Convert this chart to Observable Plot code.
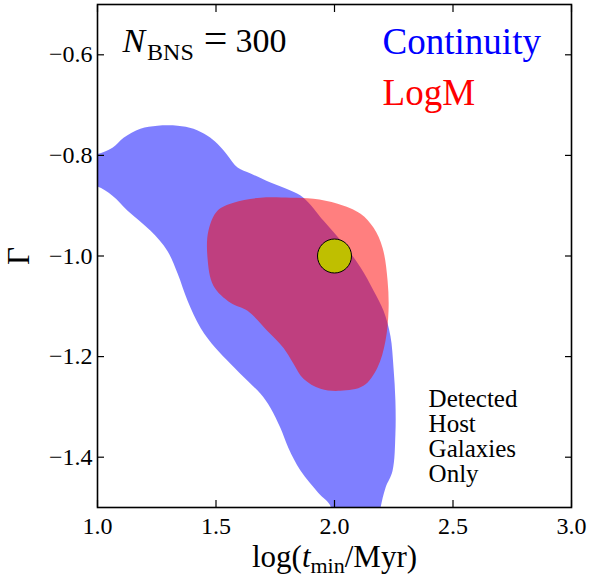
<!DOCTYPE html>
<html>
<head>
<meta charset="utf-8">
<script src="https://cdn.jsdelivr.net/npm/d3@7"></script>
<script src="https://cdn.jsdelivr.net/npm/@observablehq/plot@0.6"></script>
<style>
  html, body { margin: 0; padding: 0; background: white; }
  #chart svg { display: block; }
  #chart svg text { font-family: "Liberation Serif", "DejaVu Serif", serif; }
</style>
</head>
<body>
<div id="chart"></div>
<script>
// Tick values
const xTicks = [1.0, 1.5, 2.0, 2.5, 3.0];
const yTicks = [-1.4, -1.2, -1.0, -0.8, -0.6];

// "Continuity" credible-region outline (log t_min, Gamma)
const continuityX = [0.962, 1.0, 1.063, 1.110, 1.181, 1.253, 1.338, 1.405, 1.464, 1.506, 1.549, 1.591, 1.646, 1.730, 1.814, 1.869, 1.954, 2.038, 2.110, 2.165, 2.207, 2.236, 2.249, 2.257, 2.257, 2.245, 2.215, 2.194, 2.186, 1.983, 1.983, 1.932, 1.857, 1.806, 1.772, 1.730, 1.688, 1.633, 1.561, 1.498, 1.435, 1.380, 1.338, 1.295, 1.224, 1.127, 1.063, 1.0, 0.962];
const continuityY = [-0.795, -0.797, -0.785, -0.765, -0.747, -0.741, -0.741, -0.747, -0.761, -0.777, -0.800, -0.824, -0.836, -0.854, -0.870, -0.884, -0.930, -0.976, -1.023, -1.069, -1.109, -1.159, -1.222, -1.288, -1.354, -1.427, -1.461, -1.501, -1.527, -1.527, -1.497, -1.471, -1.427, -1.382, -1.342, -1.302, -1.274, -1.248, -1.214, -1.183, -1.143, -1.089, -1.035, -0.990, -0.950, -0.910, -0.880, -0.862, -0.860];

// "LogM" credible-region outline
const logmX = [1.506, 1.574, 1.688, 1.814, 1.911, 2.013, 2.110, 2.165, 2.203, 2.224, 2.228, 2.215, 2.181, 2.122, 2.025, 1.941, 1.869, 1.827, 1.785, 1.717, 1.633, 1.561, 1.489, 1.464, 1.468];
const logmY = [-0.910, -0.894, -0.884, -0.884, -0.886, -0.896, -0.916, -0.944, -0.984, -1.049, -1.109, -1.169, -1.222, -1.258, -1.268, -1.264, -1.244, -1.214, -1.183, -1.149, -1.109, -1.093, -1.059, -1.003, -0.950];

// True value
const truthX = [2.0];
const truthY = [-1.0];

const continuity = continuityX.map((x, i) => ({x, y: continuityY[i]}));
const logm = logmX.map((x, i) => ({x, y: logmY[i]}));
const truth = truthX.map((x, i) => ({x, y: truthY[i]}));

const fmt = d3.format(".1f");

const chart = Plot.plot({
  width: 589,
  height: 581,
  marginLeft: 97,
  marginRight: 18,
  marginTop: 4,
  marginBottom: 74,
  x: {domain: [1, 3]},
  y: {domain: [-1.5, -0.5]},
  style: {fontFamily: "Liberation Serif", fontSize: "24px", background: "white", color: "black"},
  marks: [
    Plot.line(continuity, {x: "x", y: "y", curve: "catmull-rom-closed", fill: "blue", fillOpacity: 0.5, stroke: "none", clip: true}),
    Plot.line(logm, {x: "x", y: "y", curve: "catmull-rom-closed", fill: "red", fillOpacity: 0.5, stroke: "none", clip: true}),
    Plot.dot(truth, {x: "x", y: "y", r: 17, fill: "#bfbf00", stroke: "black", strokeWidth: 1}),
    Plot.axisX({ticks: xTicks, tickSize: -7, tickPadding: 16, tickFormat: fmt, label: null, fontSize: 24, strokeWidth: 1.2}),
    Plot.axisX({anchor: "top", ticks: xTicks, tickSize: -7, tickFormat: () => "", label: null, strokeWidth: 1.2}),
    Plot.axisY({ticks: yTicks, tickSize: -7, tickPadding: 12, tickFormat: fmt, label: null, fontSize: 24, strokeWidth: 1.2}),
    Plot.axisY({anchor: "right", ticks: yTicks, tickSize: -7, tickFormat: () => "", label: null, strokeWidth: 1.2}),
    Plot.frame({stroke: "black", strokeWidth: 1.6}),
    Plot.text(["NBNS300"], {x: 1.105, y: -0.5935, textAnchor: "start", lineAnchor: "bottom", fontSize: 34}),
    Plot.text(["Continuity"], {x: 2.203, y: -0.5975, textAnchor: "start", lineAnchor: "bottom", fontSize: 37, fill: "blue"}),
    Plot.text(["LogM"], {x: 2.203, y: -0.699, textAnchor: "start", lineAnchor: "bottom", fontSize: 37, fill: "red"}),
    Plot.text(["Detected\nHost\nGalaxies\nOnly"], {x: 2.397, y: -1.264, textAnchor: "start", lineAnchor: "top", lineHeight: 1.0, fontSize: 25}),
    Plot.text(["XLABEL"], {frameAnchor: "bottom", dy: 59, textAnchor: "middle", lineAnchor: "bottom", fontSize: 31}),
    Plot.text(["Γ"], {frameAnchor: "left", dx: -78, rotate: -90, textAnchor: "middle", lineAnchor: "middle", fontSize: 31})
  ]
});

// Rich text (sub/italic) for the math labels
const svg = d3.select(chart);
svg.selectAll("text").each(function () {
  const t = d3.select(this);
  const s = this.textContent;
  if (s === "NBNS300") {
    t.text("");
    t.append("tspan").attr("font-style", "italic").text("N");
    t.append("tspan").attr("font-size", 24).attr("dx", 2).attr("dy", 8).text("BNS");
    t.append("tspan").attr("dx", 10).attr("dy", -8).attr("font-size", 42).text("=");
    t.append("tspan").attr("dx", 8).text("300");
  } else if (s === "XLABEL") {
    t.text("");
    t.append("tspan").text("log(");
    t.append("tspan").attr("font-style", "italic").text("t");
    t.append("tspan").attr("font-size", 22).attr("dy", 6).text("min");
    t.append("tspan").attr("dy", -6).text("/Myr)");
  }
});

document.getElementById("chart").appendChild(chart);
</script>
</body>
</html>
